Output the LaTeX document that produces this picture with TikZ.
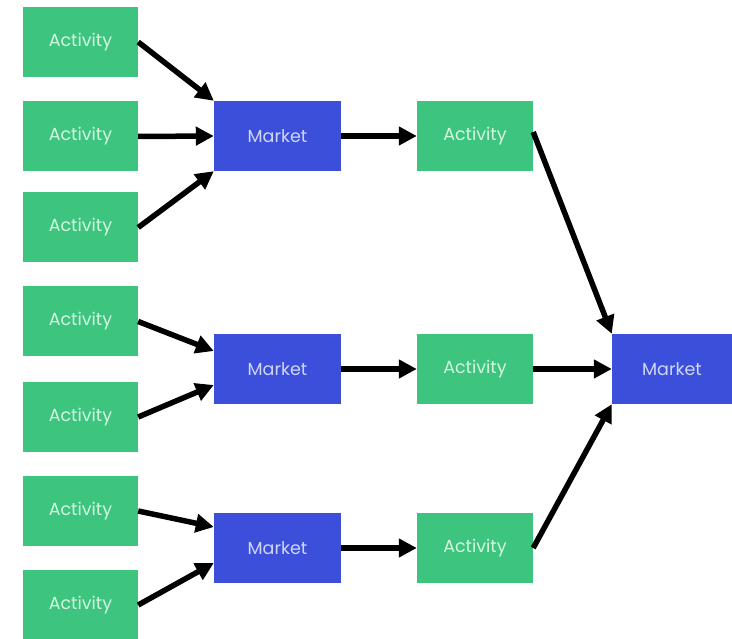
\documentclass[tikz,border=0pt]{standalone}
\usepackage{fontspec}
\setmainfont{Poppins}
\usetikzlibrary{arrows.meta}
\definecolor{actgreen}{HTML}{3DC47E}
\definecolor{mktblue}{HTML}{3B4FDB}
\definecolor{acttext}{HTML}{D2F7E0}
\definecolor{mkttext}{HTML}{D0D6F7}
\tikzset{
  actbox/.style={rectangle, fill=actgreen, text=acttext, minimum width=115pt, minimum height=70pt, inner sep=0pt, font=\fontsize{17.5}{20}\selectfont},
  midbox/.style={actbox, minimum width=116pt},
  mktbox/.style={rectangle, fill=mktblue, text=mkttext, minimum width=127pt, minimum height=70pt, inner sep=0pt, font=\fontsize{17.5}{20}\selectfont},
  flow/.style={line width=5.5pt, -{Triangle[length=18pt,width=18pt]}, shorten >=0pt}
}
\begin{document}
\begin{tikzpicture}[x=1pt,y=-1pt]
\useasboundingbox (0,0) rectangle (732,639);
\fill[white] (0,0) rectangle (732,639);
\node[actbox] (a1) at (80.5,42) {Activity};
\node[actbox] (a2) at (80.5,136.5) {Activity};
\node[actbox] (a3) at (80.5,227.5) {Activity};
\node[actbox] (a4) at (80.5,321.5) {Activity};
\node[actbox] (a5) at (80.5,417) {Activity};
\node[actbox] (a6) at (80.5,511) {Activity};
\node[actbox] (a7) at (80.5,605) {Activity};
\node[mktbox] (m1) at (277.5,136) {Market};
\node[mktbox] (m2) at (277.5,369) {Market};
\node[mktbox] (m3) at (277.5,548) {Market};
\node[midbox] (b1) at (475,136) {Activity};
\node[midbox] (b2) at (475,369) {Activity};
\node[midbox] (b3) at (475,548) {Activity};
\node[mktbox, minimum width=120pt] (f) at (672,369) {Market};
\draw[flow] (a1.east) -- (m1.north west);
\draw[flow] (a2.east) -- (m1.west);
\draw[flow] (a3.east) -- (m1.south west);
\draw[flow] (a4.east) -- ([yshift=18pt]m2.west);
\draw[flow] (a5.east) -- ([yshift=-16pt]m2.west);
\draw[flow] (a6.east) -- ([yshift=21pt]m3.west);
\draw[flow] (a7.east) -- ([yshift=-15pt]m3.west);
\draw[flow] (m1.east) -- (b1.west);
\draw[flow] (m2.east) -- (b2.west);
\draw[flow] (m3.east) -- (b3.west);
\draw[flow] ([yshift=4pt]b1.east) -- (f.north west);
\draw[flow] (b2.east) -- (f.west);
\draw[flow] (b3.east) -- (f.south west);
\end{tikzpicture}
\end{document}
